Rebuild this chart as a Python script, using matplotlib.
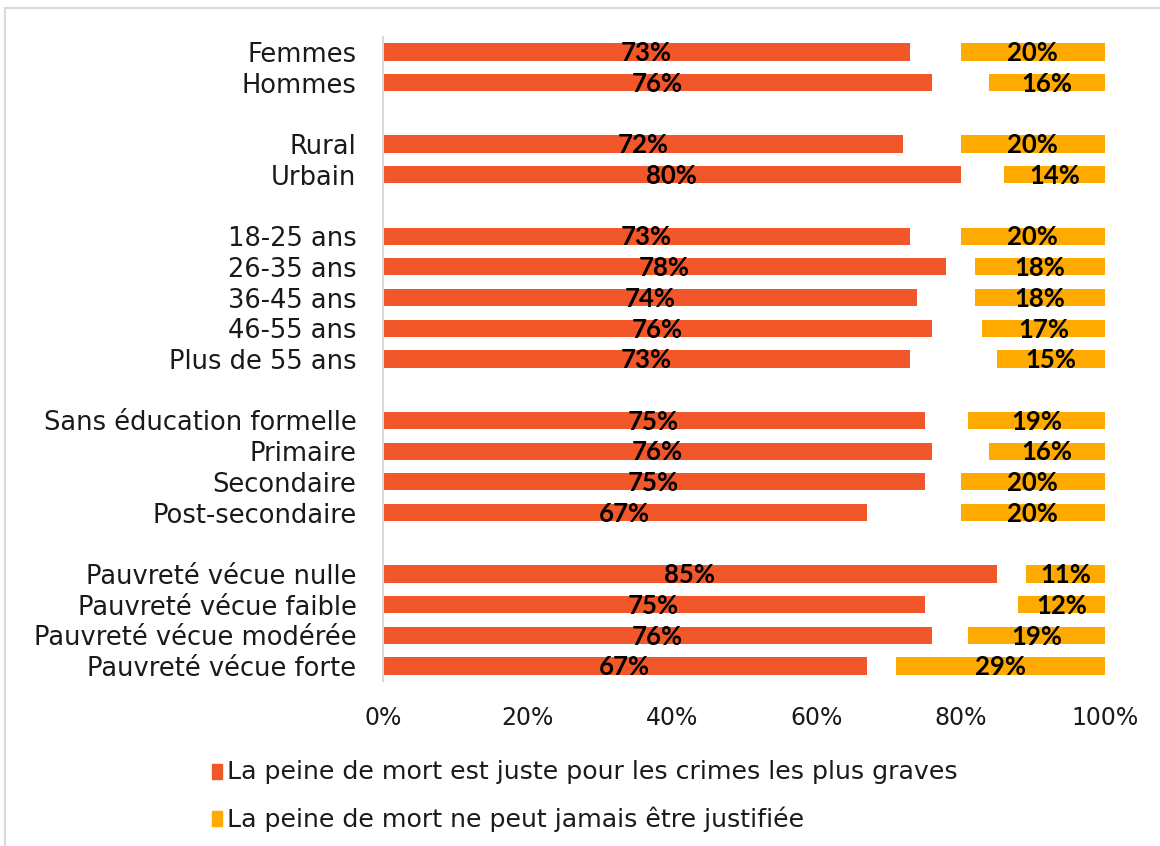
import matplotlib
matplotlib.use('Agg')
import matplotlib.pyplot as plt
from matplotlib.patches import Rectangle
import numpy as np

# Catégories (chaîne vide = ligne de séparation entre les groupes)
categories = ['Femmes', 'Hommes', '',
              'Rural', 'Urbain', '',
              '18-25 ans', '26-35 ans', '36-45 ans', '46-55 ans', 'Plus de 55 ans', '',
              'Sans éducation formelle', 'Primaire', 'Secondaire', 'Post-secondaire', '',
              'Pauvreté vécue nulle', 'Pauvreté vécue faible',
              'Pauvreté vécue modérée', 'Pauvreté vécue forte']

# % "La peine de mort est juste pour les crimes les plus graves"
juste = [73, 76, None,
         72, 80, None,
         73, 78, 74, 76, 73, None,
         75, 76, 75, 67, None,
         85, 75, 76, 67]

# % "La peine de mort ne peut jamais être justifiée"
jamais = [20, 16, None,
          20, 14, None,
          20, 18, 18, 17, 15, None,
          19, 16, 20, 20, None,
          11, 12, 19, 29]

legend_labels = ['La peine de mort est juste pour les crimes les plus graves',
                 'La peine de mort ne peut jamais être justifiée']
xticks = [0, 20, 40, 60, 80, 100]

RED = '#F2572A'
YELLOW = '#FFAA00'
GREY = '#D9D9D9'

plt.rcParams['font.family'] = ['DejaVu Sans']
LABEL_FONT = ['Lato', 'DejaVu Sans']

W, H = 1160, 846
fig = plt.figure(figsize=(W / 100, H / 100), dpi=100)

# cadre gris autour du graphique
fig.patches.append(Rectangle((5 / W, -0.1), 1.2, 1 - 8 / H + 0.1,
                             transform=fig.transFigure, fill=False,
                             edgecolor=GREY, linewidth=1.5))

ax = fig.add_axes([383 / W, 1 - 681.4 / H, (1105 - 383) / W, (681.4 - 36.6) / H])

y = np.arange(len(categories))
bar_h = 0.56
for i, (j, n) in enumerate(zip(juste, jamais)):
    if j is None:
        continue
    ax.barh(i, j, height=bar_h, color=RED)
    ax.barh(i, n, left=100 - n, height=bar_h, color=YELLOW)
    ax.text(j / 2, i + 0.04, f'{j}%', ha='center', va='center',
            fontsize=18.5, fontweight='bold', family=LABEL_FONT, color='black')
    ax.text(100 - n / 2, i + 0.04, f'{n}%', ha='center', va='center',
            fontsize=18.5, fontweight='bold', family=LABEL_FONT, color='black')

ax.set_xlim(0, 100)
ax.set_ylim(len(categories) - 0.5, -0.5)
ax.set_yticks(y)
ax.set_yticklabels(categories, fontsize=18.5, color='#1a1a1a')
ax.set_xticks(xticks)
ax.set_xticklabels([f'{t}%' for t in xticks], fontsize=17, color='#1a1a1a')
ax.tick_params(axis='y', length=0, pad=19)
ax.tick_params(axis='x', length=0, pad=18)

for side in ['top', 'right', 'bottom']:
    ax.spines[side].set_visible(False)
ax.spines['left'].set_color(GREY)
ax.spines['left'].set_linewidth(1.5)

# légende en bas
for k, (lab, col) in enumerate(zip(legend_labels, [RED, YELLOW])):
    yc = 772 + k * 47
    fig.patches.append(Rectangle((212 / W, 1 - (yc + 7) / H), 10 / W, 15 / H,
                                 transform=fig.transFigure, color=col))
    fig.text(227 / W, 1 - yc / H, lab, ha='left', va='center',
             fontsize=18.2, color='#1a1a1a')

fig.savefig('out.png', dpi=100)
